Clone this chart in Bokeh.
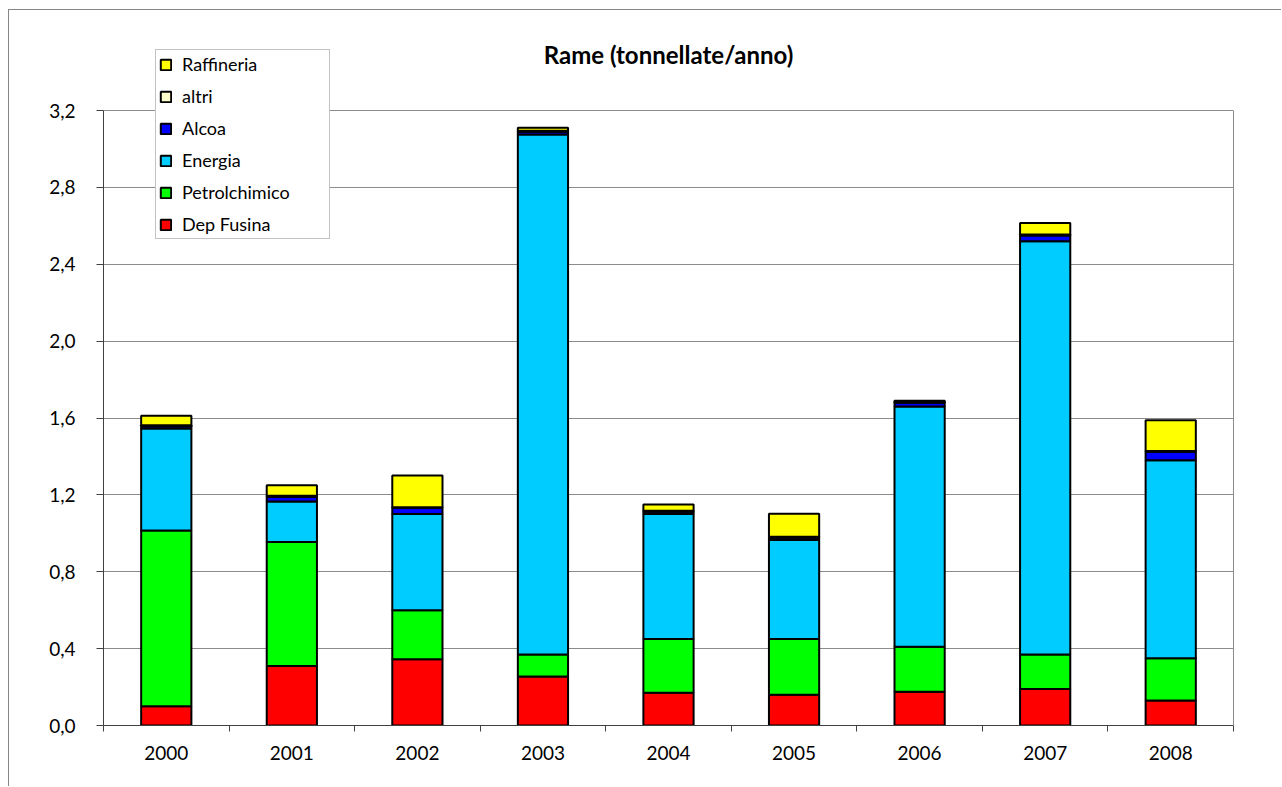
from bokeh.plotting import figure
from bokeh.models import (ColumnDataSource, Range1d, FixedTicker, CustomJSTickFormatter,
                          Legend, LegendItem, Label, LinearAxis)
from bokeh.embed import file_html
from bokeh.resources import INLINE

years = ["2000", "2001", "2002", "2003", "2004", "2005", "2006", "2007", "2008"]
dep_fusina = [0.10, 0.31, 0.345, 0.255, 0.17, 0.16, 0.175, 0.19, 0.13]
petrolchimico = [0.915, 0.645, 0.255, 0.115, 0.28, 0.29, 0.235, 0.18, 0.22]
energia = [0.53, 0.21, 0.50, 2.705, 0.65, 0.515, 1.25, 2.15, 1.03]
alcoa = [0.012, 0.025, 0.033, 0.015, 0.012, 0.012, 0.02, 0.03, 0.045]
altri = [0.005, 0.005, 0.003, 0.005, 0.005, 0.005, 0.005, 0.005, 0.003]
raffineria = [0.05, 0.055, 0.165, 0.015, 0.033, 0.12, 0.005, 0.06, 0.16]

series_names = ["Dep Fusina", "Petrolchimico", "Energia", "Alcoa", "altri", "Raffineria"]
series_keys = ["dep", "petro", "ener", "alcoa", "altri", "raff"]
series_colors = ["#FF0000", "#00FF00", "#00CCFF", "#0000FF", "#FFFFCC", "#FFFF00"]
y_ticks = [0.0, 0.4, 0.8, 1.2, 1.6, 2.0, 2.4, 2.8, 3.2]
y_max = 3.2
title_text = "Rame (tonnellate/anno)"

FONT = "Lato"

# canvas geometry (page offset 9,10 because of margin + border)
W, H = 1273, 777
FR_LEFT, FR_RIGHT, FR_BOTTOM = 94, 1224, 715
y_top = y_max * FR_BOTTOM / 615.0  # frame reaches canvas top; 3.2 sits 615px above 0

x_pos = [i + 0.5 for i in range(len(years))]
source = ColumnDataSource(dict(x=x_pos, dep=dep_fusina, petro=petrolchimico, ener=energia,
                               alcoa=alcoa, altri=altri, raff=raffineria))

p = figure(width=W, height=H, x_range=Range1d(0, len(years)), y_range=Range1d(0, y_top),
           output_backend="svg", toolbar_location=None,
           min_border_left=FR_LEFT, min_border_right=W - FR_RIGHT,
           min_border_top=0, min_border_bottom=H - FR_BOTTOM)
p.styles = {"margin-left": "8px", "margin-top": "9px",
            "border-left": "1px solid #868686", "border-top": "1px solid #868686"}
p.background_fill_color = "white"
p.border_fill_color = "white"
p.outline_line_color = None

renderers = p.vbar_stack(series_keys, x="x", width=0.4, source=source,
                         fill_color=series_colors, line_color="black", line_width=2)

# x axis
p.xaxis.ticker = FixedTicker(ticks=x_pos, minor_ticks=list(range(len(years) + 1)))
p.xaxis.major_label_overrides = {x: y for x, y in zip(x_pos, years)}
p.xaxis.major_tick_line_color = None
p.xaxis.minor_tick_line_color = "#404040"
p.xaxis.minor_tick_out = 6
p.xaxis.minor_tick_in = 0
p.xaxis.axis_line_color = "#404040"
p.xaxis.major_label_text_font = FONT
p.xaxis.major_label_text_font_size = "19px"
p.xaxis.major_label_text_color = "black"
p.xaxis.major_label_standoff = 14

# y axis
p.yaxis.ticker = FixedTicker(ticks=y_ticks)
p.yaxis.bounds = (0, y_max)
p.yaxis.formatter = CustomJSTickFormatter(code="return tick.toFixed(1).replace('.', ',');")
p.yaxis.minor_tick_line_color = None
p.yaxis.major_tick_out = 7
p.yaxis.major_tick_in = 0
p.yaxis.major_tick_line_color = "#404040"
p.yaxis.axis_line_color = "#404040"
p.yaxis.major_label_text_font = FONT
p.yaxis.major_label_text_font_size = "19px"
p.yaxis.major_label_text_color = "black"
p.yaxis.major_label_standoff = 21

# right border of plot area
right_axis = LinearAxis(bounds=(0, y_max), ticker=FixedTicker(ticks=[]),
                        axis_line_color="#8c8c8c", major_tick_line_color=None,
                        minor_tick_line_color=None, major_label_text_font_size="0px")
p.add_layout(right_axis, "right")

p.xgrid.grid_line_color = None
p.ygrid.ticker = FixedTicker(ticks=y_ticks)
p.ygrid.grid_line_color = "#8c8c8c"
p.ygrid.grid_line_width = 1

# title
p.add_layout(Label(x=len(years) / 2, y=y_max + 56 / 192.2, text=title_text, text_align="center",
                   text_baseline="middle", text_font=FONT, text_font_style="bold",
                   text_font_size="24px", text_color="black"))

# legend (reversed order)
items = [LegendItem(label=n, renderers=[r]) for n, r in zip(series_names, renderers)][::-1]
legend = Legend(items=items, location=(52, 486), orientation="vertical",
                label_text_font=FONT, label_text_font_size="18px", label_text_color="black",
                glyph_width=13, glyph_height=13, label_height=22, label_standoff=10,
                spacing=10, padding=3, label_width=144,
                border_line_color="#868686", border_line_width=1,
                background_fill_color="white", background_fill_alpha=1.0)
p.add_layout(legend, "center")

open("out.html", "w").write(file_html(p, INLINE))
